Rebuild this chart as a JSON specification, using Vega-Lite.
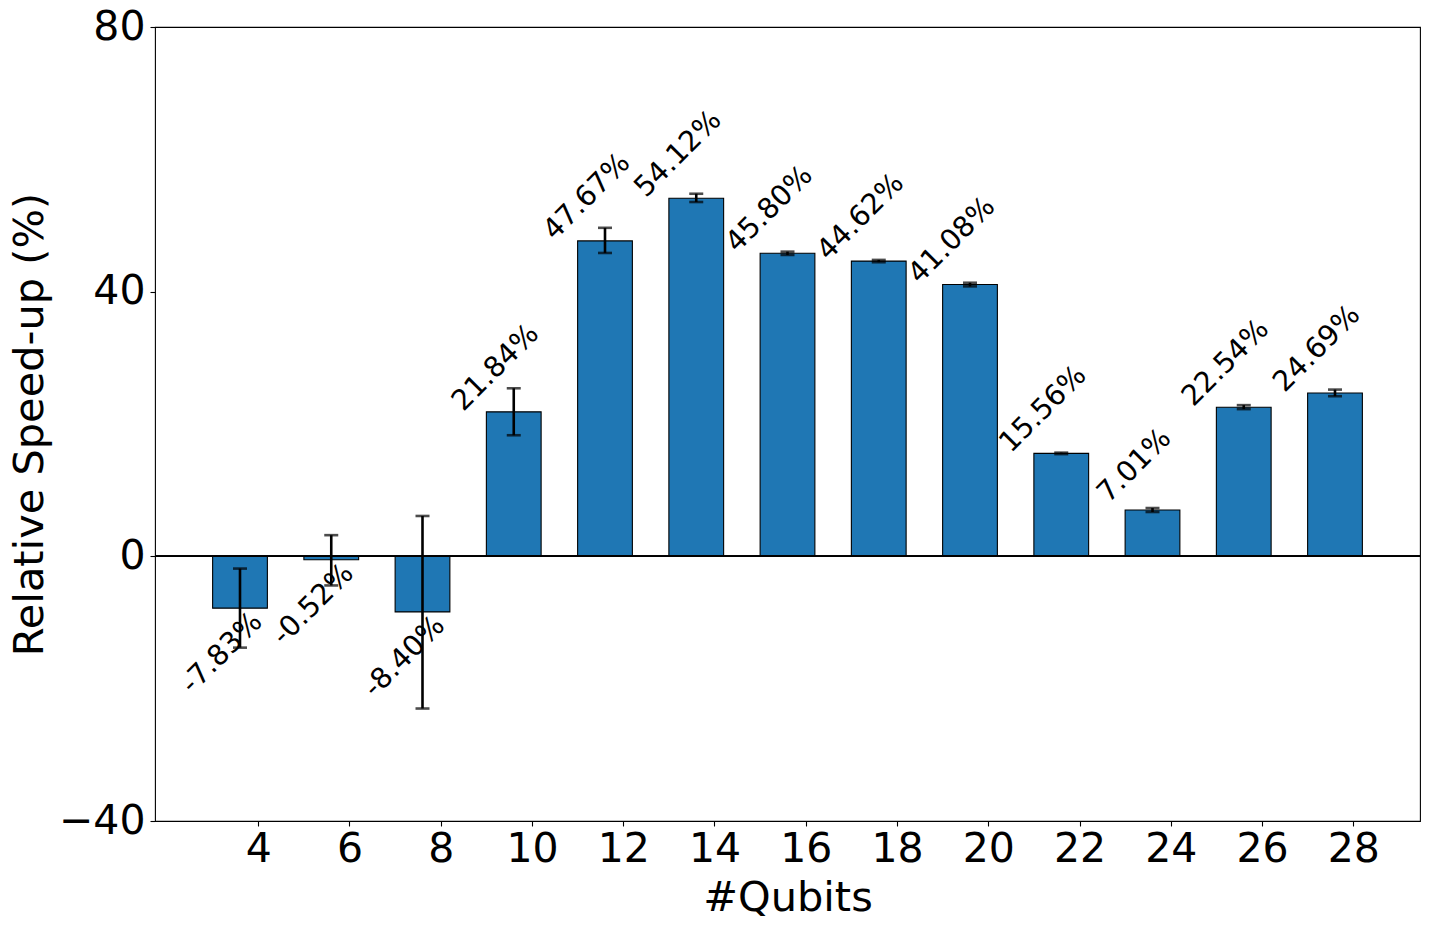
{
  "$schema": "https://vega.github.io/schema/vega-lite/v6.json",
  "width": 1265,
  "height": 794,
  "autosize": "none",
  "padding": {"left": 155, "top": 27, "right": 10, "bottom": 109},
  "background": "white",
  "config": {
    "view": {"stroke": "black", "strokeWidth": 1.1},
    "font": "DejaVu Sans",
    "axis": {
      "grid": false,
      "domain": false,
      "tickColor": "black",
      "tickWidth": 1.1,
      "tickSize": 5,
      "labelColor": "black",
      "titleColor": "black",
      "labelFont": "DejaVu Sans",
      "titleFont": "DejaVu Sans",
      "labelFontSize": 41,
      "titleFontSize": 41.5,
      "titleFontWeight": "normal"
    }
  },
  "data": {
    "values": [
      {"qubits": 4, "v": -7.83, "lo": -13.8, "hi": -1.85, "label": "-7.83%"},
      {"qubits": 6, "v": -0.52, "lo": -4.4, "hi": 3.2, "label": "-0.52%"},
      {"qubits": 8, "v": -8.40, "lo": -23.0, "hi": 6.1, "label": "-8.40%"},
      {"qubits": 10, "v": 21.84, "lo": 18.3, "hi": 25.4, "label": "21.84%"},
      {"qubits": 12, "v": 47.67, "lo": 45.85, "hi": 49.65, "label": "47.67%"},
      {"qubits": 14, "v": 54.12, "lo": 53.55, "hi": 54.8, "label": "54.12%"},
      {"qubits": 16, "v": 45.80, "lo": 45.55, "hi": 46.05, "label": "45.80%"},
      {"qubits": 18, "v": 44.62, "lo": 44.45, "hi": 44.8, "label": "44.62%"},
      {"qubits": 20, "v": 41.08, "lo": 40.8, "hi": 41.35, "label": "41.08%"},
      {"qubits": 22, "v": 15.56, "lo": 15.45, "hi": 15.67, "label": "15.56%"},
      {"qubits": 24, "v": 7.01, "lo": 6.7, "hi": 7.3, "label": "7.01%"},
      {"qubits": 26, "v": 22.54, "lo": 22.25, "hi": 22.85, "label": "22.54%"},
      {"qubits": 28, "v": 24.69, "lo": 24.2, "hi": 25.2, "label": "24.69%"}
    ]
  },
  "encoding": {
    "x": {
      "field": "qubits",
      "type": "quantitative",
      "scale": {"domain": [2.137, 29.863], "nice": false, "zero": false, "padding": 0},
      "axis": {
        "title": "#Qubits",
        "values": [4.4, 6.4, 8.4, 10.4, 12.4, 14.4, 16.4, 18.4, 20.4, 22.4, 24.4, 26.4, 28.4],
        "labelExpr": "format(datum.value - 0.4, 'd')",
        "labelPadding": 3,
        "titlePadding": 8,
        "labelFlush": false,
        "labelOverlap": false
      }
    }
  },
  "layer": [
    {
      "mark": {"type": "bar", "width": 54.75, "fill": "#1f77b4", "stroke": "black", "strokeWidth": 1.1},
      "encoding": {
        "y": {
          "field": "v",
          "type": "quantitative",
          "scale": {"domain": [-40, 80], "nice": false, "zero": false, "padding": 0},
          "axis": {
            "title": "Relative Speed-up (%)",
            "values": [-40, 0, 40, 80],
            "labelPadding": 5,
            "titlePadding": 7
          }
        },
        "y2": {"datum": 0}
      }
    },
    {
      "mark": {"type": "rule", "color": "black", "strokeWidth": 1.2},
      "encoding": {"y": {"datum": 0}, "x": {"value": 0}, "x2": {"value": 1265}}
    },
    {
      "mark": {"type": "rule", "color": "black", "strokeWidth": 2.6},
      "encoding": {"y": {"field": "lo", "type": "quantitative"}, "y2": {"field": "hi"}}
    },
    {
      "mark": {"type": "tick", "orient": "horizontal", "color": "black", "size": 14, "thickness": 2.6},
      "encoding": {"y": {"field": "lo", "type": "quantitative"}}
    },
    {
      "mark": {"type": "tick", "orient": "horizontal", "color": "black", "size": 14, "thickness": 2.6},
      "encoding": {"y": {"field": "hi", "type": "quantitative"}}
    },
    {
      "transform": [{"filter": "datum.v >= 0"}],
      "mark": {"type": "text", "angle": -45, "align": "center", "baseline": "middle", "fontSize": 28.5, "dx": 18.4, "dy": -44.5, "color": "black", "font": "DejaVu Sans"},
      "encoding": {"y": {"field": "v", "type": "quantitative"}, "text": {"field": "label"}}
    },
    {
      "transform": [{"filter": "datum.v < 0"}],
      "mark": {"type": "text", "angle": -45, "align": "center", "baseline": "middle", "fontSize": 28.5, "dx": -44.5, "dy": 18.4, "color": "black", "font": "DejaVu Sans"},
      "encoding": {"y": {"field": "v", "type": "quantitative"}, "text": {"field": "label"}}
    }
  ]
}
